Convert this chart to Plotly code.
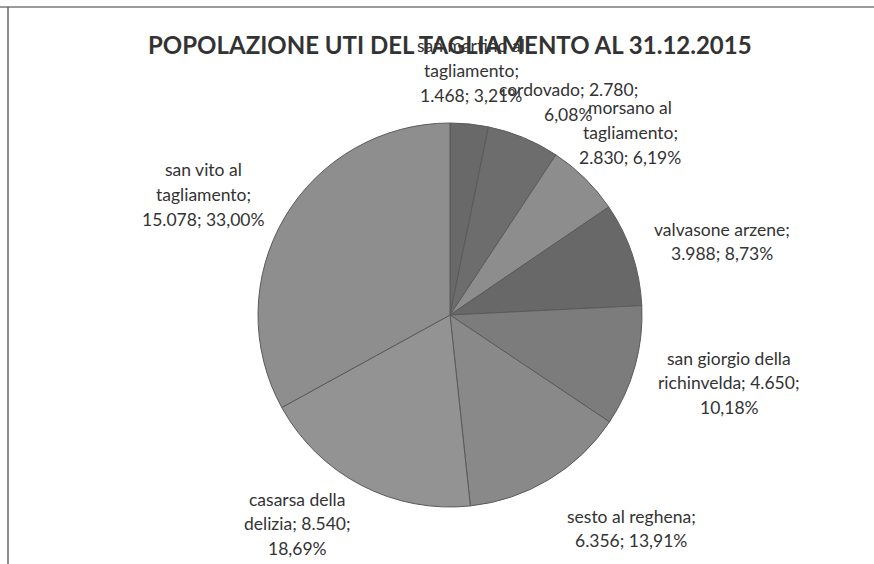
import plotly.graph_objects as go

W, H = 874, 564

names = ["san martino al tagliamento", "cordovado", "morsano al tagliamento",
         "valvasone arzene", "san giorgio della richinvelda", "sesto al reghena",
         "casarsa della delizia", "san vito al tagliamento"]
values = [1468, 2780, 2830, 3988, 4650, 6356, 8540, 15078]
value_labels = ["1.468", "2.780", "2.830", "3.988", "4.650", "6.356", "8.540", "15.078"]
pct_labels = ["3,21%", "6,08%", "6,19%", "8,73%", "10,18%", "13,91%", "18,69%", "33,00%"]
colors = ["#696969", "#6d6d6d", "#8d8d8d", "#686868", "#7c7c7c", "#898989", "#939393", "#8e8e8e"]
title = "POPOLAZIONE UTI DEL TAGLIAMENTO AL 31.12.2015"

# label wrapping (as in the original, Excel-style) and label block positions (px)
wraps = [
    ["san martino al", "tagliamento;", "{v}; {p}"],
    ["cordovado; {v};", "{p}"],
    ["morsano al", "tagliamento;", "{v}; {p}"],
    ["valvasone arzene;", "{v}; {p}"],
    ["san giorgio della", "richinvelda; {v};", "{p}"],
    ["sesto al reghena;", "{v}; {p}"],
    ["casarsa della", "delizia; {v};", "{p}"],
    ["san vito al", "tagliamento;", "{v}; {p}"],
]
label_pos = [(471, 46), (568, 90), (630, 108), (722, 229), (729, 358),
             (631, 516), (297, 499), (203, 170)]
line_gap = 24.5

cx, cy, r = 450, 315, 192

fig = go.Figure(go.Pie(
    labels=names, values=values, sort=False, direction="clockwise", rotation=0,
    marker=dict(colors=colors, line=dict(color="#5a5a5a", width=1)),
    textinfo="none", hoverinfo="label+value+percent", showlegend=False,
    domain=dict(x=[(cx - r) / W, (cx + r) / W], y=[1 - (cy + r) / H, 1 - (cy - r) / H]),
))

anns = []
font = dict(family="Lato, Carlito, Open Sans, sans-serif", size=17.5, color="#333333")
for i, lines in enumerate(wraps):
    x0, y0 = label_pos[i]
    for j, ln in enumerate(lines):
        txt = ln.format(v=value_labels[i], p=pct_labels[i])
        anns.append(dict(text=txt, x=x0 / W, y=1 - (y0 + j * line_gap) / H,
                         xref="paper", yref="paper", xanchor="center", yanchor="middle",
                         showarrow=False, font=font))

anns.append(dict(text="<b>" + title + "</b>", x=450 / W, y=1 - 44 / H, xref="paper", yref="paper",
                 xanchor="center", yanchor="middle", showarrow=False,
                 font=dict(family="Lato, Open Sans, sans-serif", size=24, color="#333333")))

shapes = [
    dict(type="line", xref="paper", yref="paper", x0=0, x1=1, y0=1 - 7 / H, y1=1 - 7 / H,
         line=dict(color="#7a7a7a", width=1.5)),
    dict(type="line", xref="paper", yref="paper", x0=8 / W, x1=8 / W, y0=0, y1=1 - 7 / H,
         line=dict(color="#6a6a6a", width=1.5)),
]

fig.update_layout(width=W, height=H, margin=dict(l=0, r=0, t=0, b=0),
                  paper_bgcolor="white", plot_bgcolor="white",
                  annotations=anns, shapes=shapes)

fig.write_html("out.html", config={"displayModeBar": False},
               post_script="document.body.style.margin='0';document.body.style.overflow='hidden';")
